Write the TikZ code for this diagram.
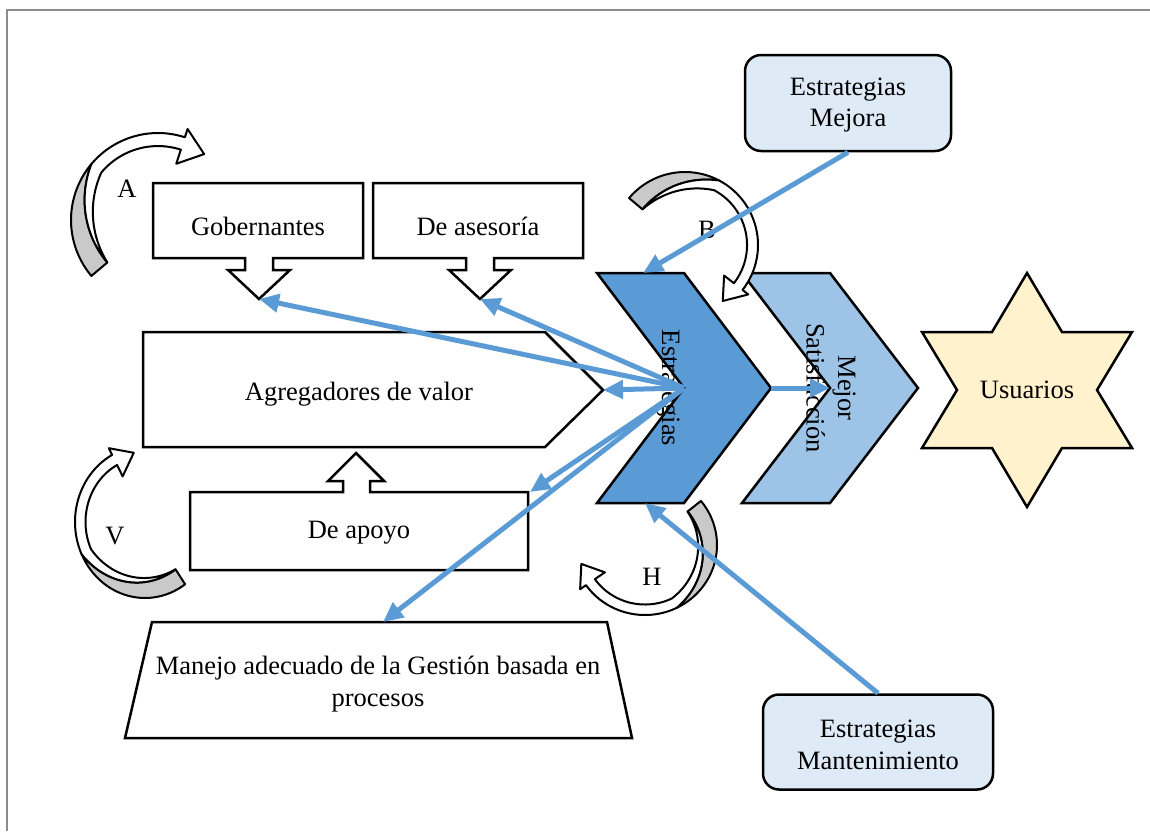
\documentclass[tikz,border=0pt]{standalone}
\usepackage{fontspec}
\setmainfont{Liberation Serif}
\usetikzlibrary{arrows.meta}
\definecolor{estrblue}{HTML}{5B9BD5}
\definecolor{mejblue}{HTML}{9DC3E6}
\definecolor{boxblue}{HTML}{DEEBF7}
\definecolor{starfill}{HTML}{FFF2CC}
\definecolor{framegray}{HTML}{8C8C8C}
\definecolor{curvgrayc}{HTML}{C9C9C9}
% curved block arrow: #1 transform, #2 tail angle, #3 merge angle, #4 head base angle, #5 tip angle
\newcommand{\bendarrow}[5]{%
 \begin{scope}[#1, declare function={uu(\t)=(\t-(#3))/((#2)-(#3)); rg(\t)=1-0.24*uu(\t)*(2-uu(\t)); ri(\t)=rg(\t)-0.15*(1-uu(\t));}]
  \filldraw[curvgray] plot[domain=#2:#3,samples=30,variable=\t] ({cos(\t)},{sin(\t)})
     -- plot[domain=#3:#2,samples=30,variable=\t] ({rg(\t)*cos(\t)},{rg(\t)*sin(\t)}) -- cycle;
  \filldraw[curvwhite] plot[domain=#2:#3,samples=30,variable=\t] ({rg(\t)*cos(\t)},{rg(\t)*sin(\t)})
     -- plot[domain=#3:#4,samples=30,variable=\t] ({cos(\t)},{sin(\t)})
     -- (#4:1.1) -- (#5:0.925) -- (#4:0.68)
     -- plot[domain=#4:#3,samples=30,variable=\t] ({0.85*cos(\t)},{0.85*sin(\t)})
     -- plot[domain=#3:#2,samples=30,variable=\t] ({ri(\t)*cos(\t)},{ri(\t)*sin(\t)}) -- cycle;
 \end{scope}}
\begin{document}
\begin{tikzpicture}[x=1pt,y=-1pt,
 every node/.style={font=\fontsize{26.5}{31.5}\selectfont, inner sep=0pt},
 outl/.style={draw=black, line width=2.5pt, fill=white},
 curvgray/.style={draw=black, line width=2pt, line join=round, fill=curvgrayc},
 curvwhite/.style={draw=black, line width=2pt, line join=round, fill=white},
 bluearr/.style={draw=estrblue, line width=5pt, -{Triangle[length=20pt,width=18pt]}},
 roundbox/.style={draw=black, line width=2.5pt, fill=boxblue, rounded corners=16pt, align=center}
]
\useasboundingbox (0,0) rectangle (1150,831);
\draw[framegray, line width=2pt] (6.5,831) -- (6.5,10) -- (1150,10);

% Gobernantes
\draw[outl] (153,183) -- (363,183) -- (363,258) -- (273,258) -- (273,270) -- (290,270) -- (259,299) -- (228,270) -- (245,270) -- (245,258) -- (153,258) -- cycle;
\node (gob) at (258,226) {Gobernantes};
\coordinate (gobtip) at (259,299);
% De asesoria
\draw[outl] (373,183) -- (583,183) -- (583,258) -- (494,258) -- (494,270) -- (511,270) -- (480,299) -- (449,270) -- (466,270) -- (466,258) -- (373,258) -- cycle;
\node (ase) at (478,226) {De asesoría};
\coordinate (asetip) at (480,299);
% Agregadores
\draw[outl] (143,332) -- (545,332) -- (603,390) -- (545,447) -- (143,447) -- cycle;
\node (agr) at (359,394) {Agregadores de valor};
\coordinate (agrtip) at (603,390);
% De apoyo
\draw[outl] (190,492) -- (343,492) -- (343,481) -- (328,481) -- (356,453) -- (384,481) -- (370,481) -- (370,492) -- (528,492) -- (528,570) -- (190,570) -- cycle;
\node (apo) at (359,533) {De apoyo};
\coordinate (apocorner) at (530,492);
% Manejo
\draw[outl] (152,622) -- (607,622) -- (632,738) -- (125,738) -- cycle;
\node[align=center] (man) at (378,684) {Manejo adecuado de la Gestión basada en\\procesos};
\coordinate (mantop) at (383,622);

% Chevrons
\draw[outl, fill=estrblue] (597,273) -- (684,273) -- (771,388) -- (684,503) -- (597,503) -- (684,388) -- cycle;
\node[rotate=-90] (estr) at (668,388) {Estrategias};
\coordinate (estrnotch) at (684,388);
\coordinate (estrtip) at (771,388);
\coordinate (estrtop) at (643,273);
\coordinate (estrbot) at (645,503);
\draw[outl, fill=mejblue] (742,273) -- (830,273) -- (918,388) -- (830,503) -- (742,503) -- (830,388) -- cycle;
\node[rotate=-90, align=center] (mej) at (831,388) {Mejor\\Satisfacción};
\coordinate (mejnotch) at (830,388);

% Star
\draw[outl, fill=starfill] (1027,273) -- (1062,332) -- (1132,332) -- (1097,390) -- (1132,448) -- (1062,448) -- (1027,507) -- (992,448) -- (922,448) -- (957,390) -- (922,332) -- (992,332) -- cycle;
\node (usu) at (1027,390) {Usuarios};

% Strategy boxes
\node[roundbox, minimum width=206pt, minimum height=96pt] (emej) at (848,103) {};
\node (emejt) at (848,105) [align=center] {Estrategias\\Mejora};
\node[roundbox, minimum width=230pt, minimum height=95pt] (eman) at (878,742) {};
\node (emant) at (878,745) [align=center] {Estrategias\\Mantenimiento};

% Curved arrows
\bendarrow{shift={(158,220)}, xscale=87, yscale=-87}{220}{140}{72}{55}
\bendarrow{shift={(145,522)}, xscale=70, yscale=-76}{305}{205}{118}{100}
\bendarrow{shift={(685,245)}, xscale=73, yscale=-73}{140}{62}{-38}{-56}
\bendarrow{shift={(645,545)}, xscale=72, yscale=-70}{39}{-64}{-145}{-163}
\node (la) at (127,189) {A};
\node (lv) at (115,536) {V};
\node (lb) at (707,230) {B};
\node (lh) at (652,577) {H};

% Blue connectors
\draw[bluearr] (emej.south) -- (estrtop);
\draw[bluearr] (eman.north) -- (estrbot);
\draw[bluearr] (estrtip) -- (mejnotch);
\draw[bluearr] (estrnotch) -- (gobtip);
\draw[bluearr] (estrnotch) -- (asetip);
\draw[bluearr] (estrnotch) -- (agrtip);
\draw[bluearr] (estrnotch) -- (apocorner);
\draw[bluearr] (estrnotch) -- (mantop);
\end{tikzpicture}
\end{document}
